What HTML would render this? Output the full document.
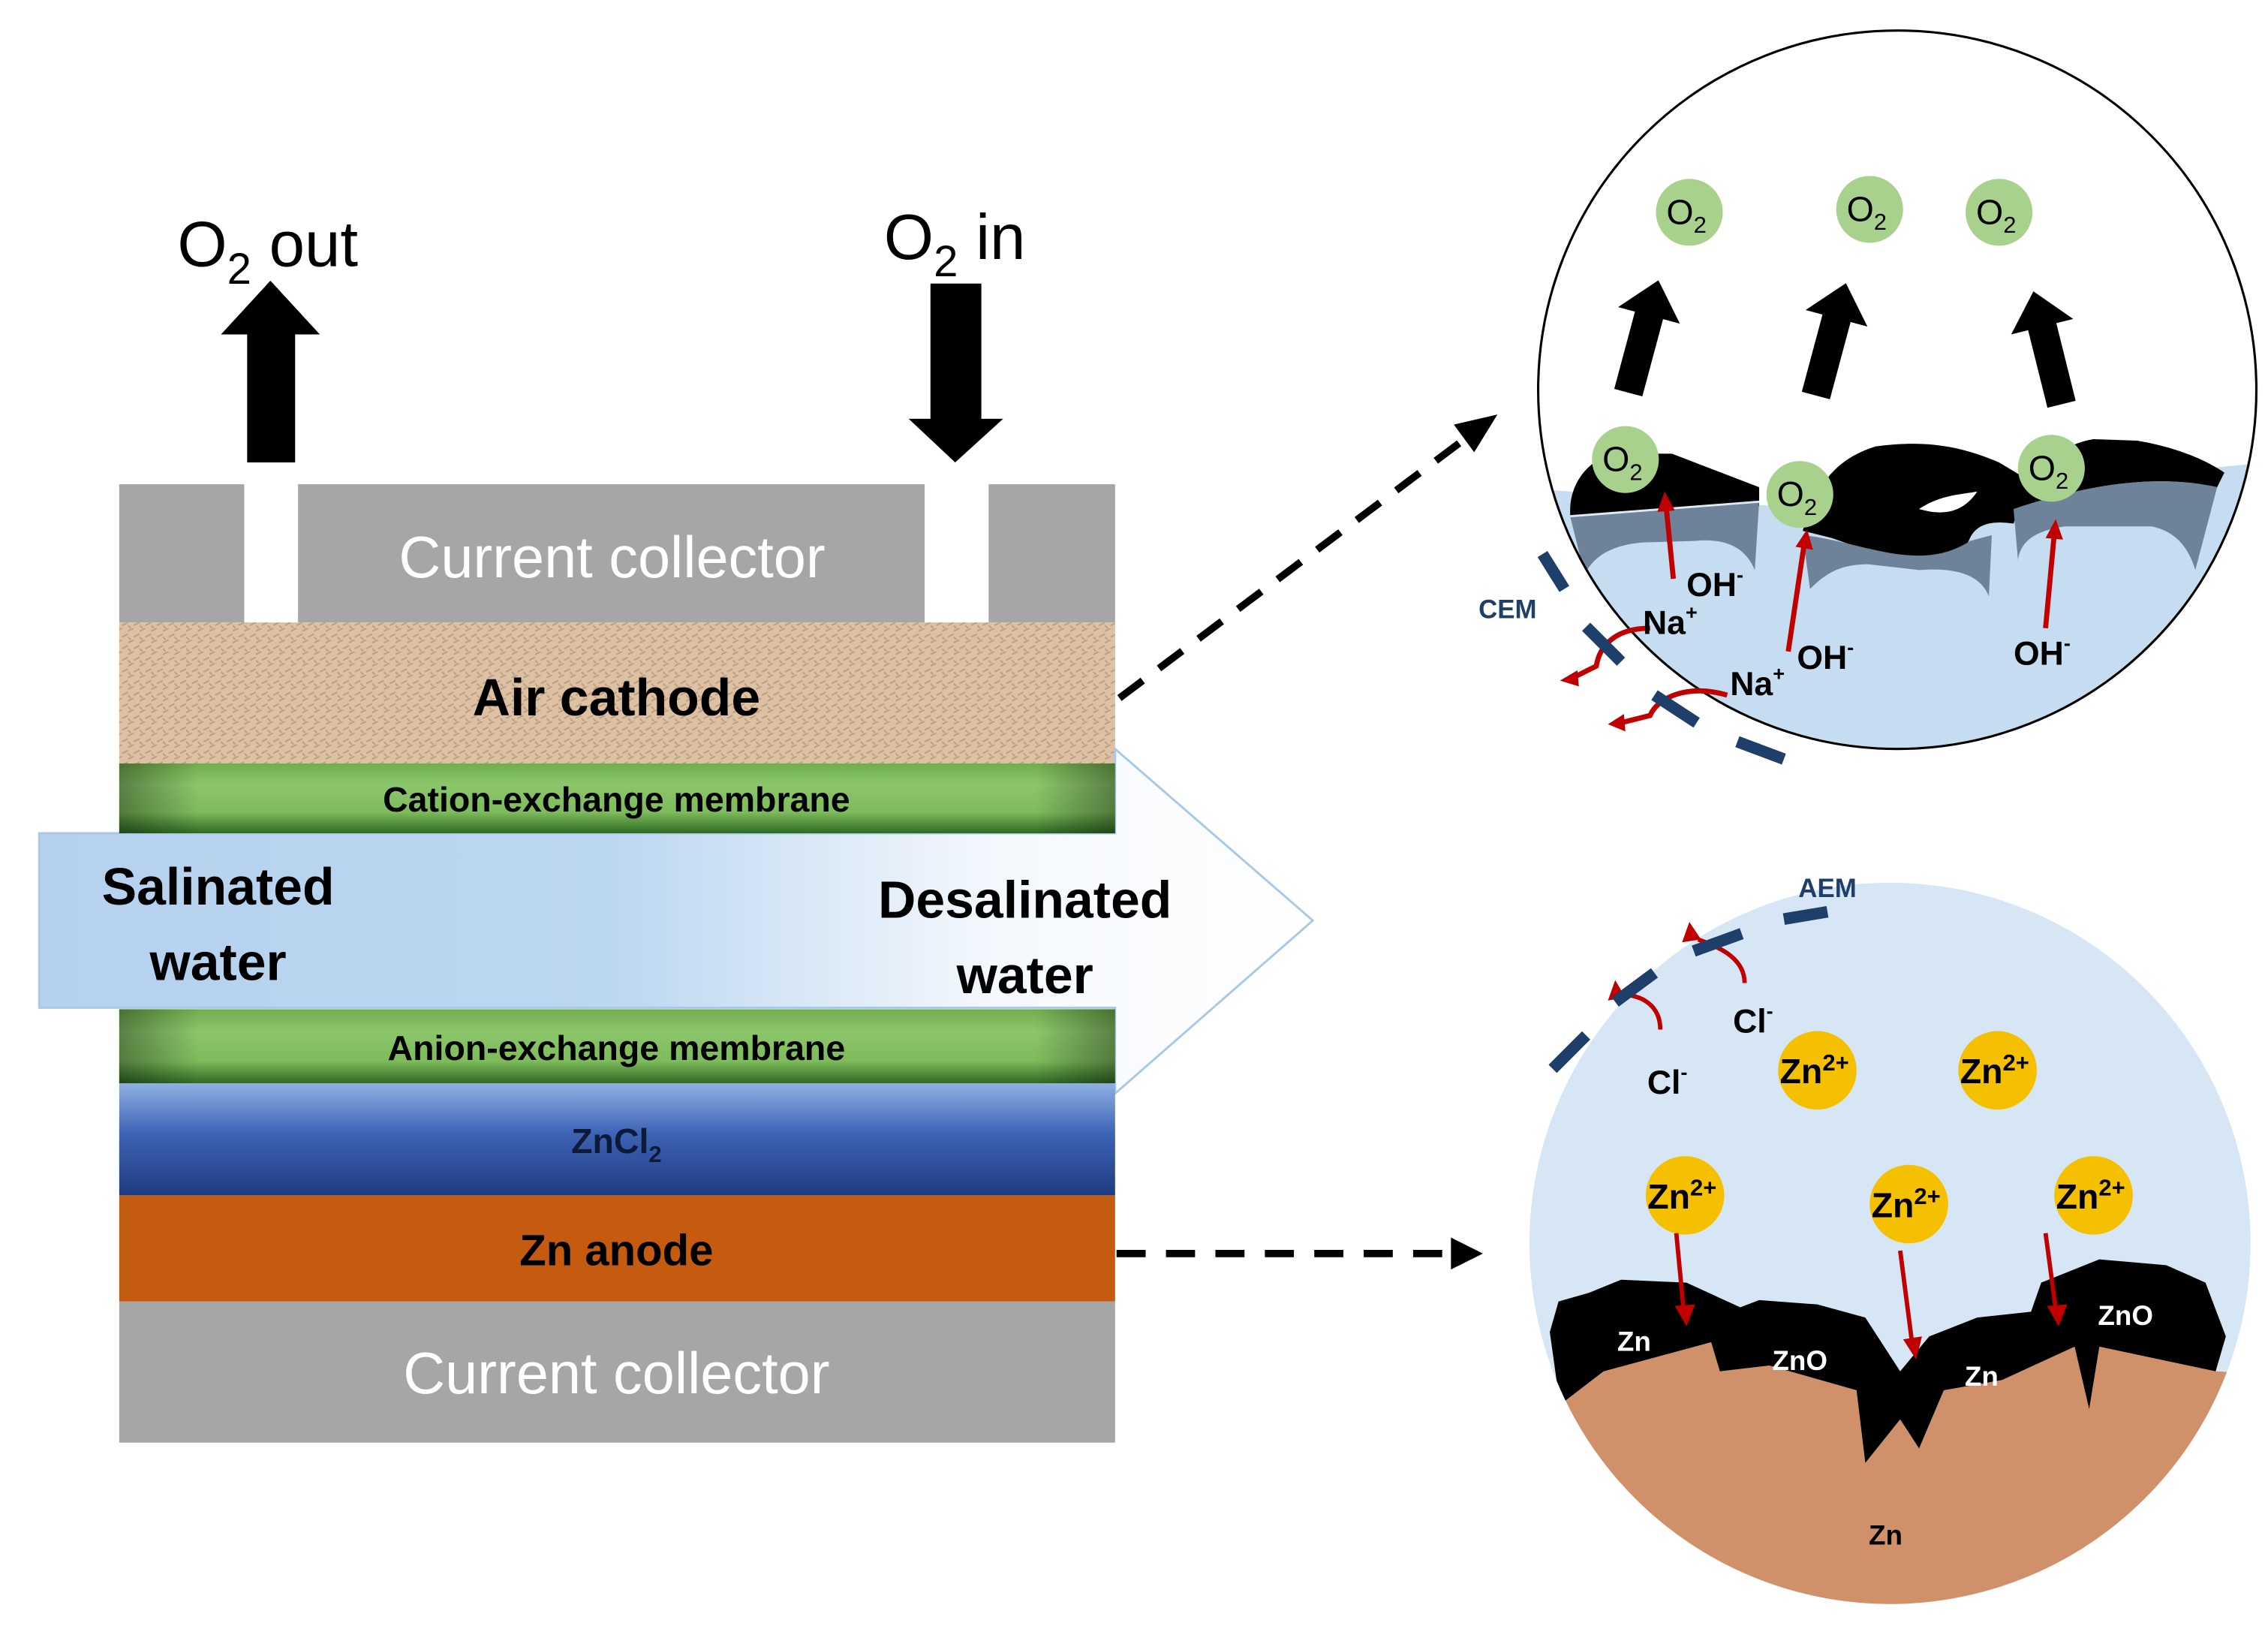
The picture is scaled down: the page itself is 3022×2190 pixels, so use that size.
<!DOCTYPE html>
<html><head><meta charset="utf-8"><style>
html,body{margin:0;padding:0;background:#fff;}
svg{display:block;}
text{font-family:"Liberation Sans",sans-serif;}
</style></head><body>
<svg width="3022" height="2190" viewBox="0 0 1560 1130.5" preserveAspectRatio="none" xmlns="http://www.w3.org/2000/svg">
<defs>
<linearGradient id="grn" x1="0" y1="0" x2="0" y2="1">
<stop offset="0" stop-color="#6fae4c"/><stop offset="0.3" stop-color="#8cc66b"/><stop offset="0.7" stop-color="#7dbb5c"/><stop offset="1" stop-color="#2e6a22"/></linearGradient>
<linearGradient id="grnh" x1="0" y1="0" x2="1" y2="0">
<stop offset="0" stop-color="#000" stop-opacity="0.35"/><stop offset="0.08" stop-color="#000" stop-opacity="0"/><stop offset="0.92" stop-color="#000" stop-opacity="0"/><stop offset="1" stop-color="#000" stop-opacity="0.35"/></linearGradient>
<linearGradient id="zncl" x1="0" y1="0" x2="0" y2="1">
<stop offset="0" stop-color="#8fb0e3"/><stop offset="0.45" stop-color="#3d63b5"/><stop offset="1" stop-color="#1f3b80"/></linearGradient>
<linearGradient id="wat" x1="0" y1="0" x2="1" y2="0">
<stop offset="0" stop-color="#b5d1ee"/><stop offset="0.45" stop-color="#bcd7f0"/><stop offset="0.75" stop-color="#f4f8fd"/><stop offset="1" stop-color="#ffffff"/></linearGradient>
<pattern id="tex" width="8" height="8" patternUnits="userSpaceOnUse">
<rect width="8" height="8" fill="#dcc1a4"/><path d="M0 2 L4 0 M4 6 L8 4 M0 6 L2 8" stroke="#bf9c7c" stroke-width="1"/></pattern>
<clipPath id="c1"><circle cx="1305" cy="268" r="247"/></clipPath>
<clipPath id="c2"><circle cx="1300" cy="855" r="248"/></clipPath>
</defs>

<!-- top labels and arrows -->
<text x="122" y="183" font-size="44">O<tspan font-size="30" dy="12">2</tspan><tspan dy="-12"> out</tspan></text>
<text x="608" y="178" font-size="44">O<tspan font-size="30" dy="12">2</tspan><tspan dy="-12"> in</tspan></text>
<polygon points="170,318 203,318 203,230 220,230 186,193 152,230 170,230" fill="#000"/>
<polygon points="640,195 675,195 675,288 690,288 657,318 625,288 640,288" fill="#000"/>

<!-- current collector top -->
<rect x="82" y="333" width="86" height="95" fill="#a6a6a6"/>
<rect x="205" y="333" width="431" height="95" fill="#a6a6a6"/>
<rect x="680" y="333" width="87" height="95" fill="#a6a6a6"/>
<text x="421" y="397" font-size="40" fill="#fff" text-anchor="middle">Current collector</text>

<!-- air cathode -->
<rect x="82" y="428" width="685" height="97" fill="url(#tex)"/>
<text x="424" y="492" font-size="36" font-weight="bold" text-anchor="middle">Air cathode</text>

<!-- water arrow -->
<polygon points="27,573 767,573 767,515 903,633 767,752 767,693 27,693" fill="url(#wat)" stroke="#a9c8e8" stroke-width="1.5"/>
<!-- membranes -->
<rect x="82" y="525" width="685" height="48" fill="url(#grn)"/>
<rect x="82" y="525" width="685" height="48" fill="url(#grnh)"/>
<text x="424" y="558" font-size="24" font-weight="bold" text-anchor="middle">Cation-exchange membrane</text>
<rect x="82" y="694" width="685" height="51" fill="url(#grn)"/>
<rect x="82" y="694" width="685" height="51" fill="url(#grnh)"/>
<text x="424" y="729" font-size="24" font-weight="bold" text-anchor="middle">Anion-exchange membrane</text>
<text x="150" y="622" font-size="36" font-weight="bold" text-anchor="middle">Salinated</text>
<text x="150" y="674" font-size="36" font-weight="bold" text-anchor="middle">water</text>
<text x="705" y="631" font-size="36" font-weight="bold" text-anchor="middle">Desalinated</text>
<text x="705" y="683" font-size="36" font-weight="bold" text-anchor="middle">water</text>

<!-- ZnCl2 -->
<rect x="82" y="745" width="685" height="77" fill="url(#zncl)"/>
<text x="424" y="793" font-size="24" font-weight="bold" text-anchor="middle" fill="#0d1a3a">ZnCl<tspan font-size="16" dy="6">2</tspan></text>
<!-- Zn anode -->
<rect x="82" y="822" width="685" height="73" fill="#c55a11"/>
<text x="424" y="870" font-size="30" font-weight="bold" text-anchor="middle">Zn anode</text>
<!-- bottom collector -->
<rect x="82" y="895" width="685" height="97" fill="#a6a6a6"/>
<text x="424" y="958" font-size="40" fill="#fff" text-anchor="middle">Current collector</text>

<!-- dashed arrows -->
<line x1="770" y1="480" x2="1010" y2="300" stroke="#000" stroke-width="5" stroke-dasharray="20,14"/>
<polygon points="1030,285 1000,292 1014,311" fill="#000"/>
<line x1="768" y1="862" x2="1000" y2="862" stroke="#000" stroke-width="5" stroke-dasharray="20,14"/>
<polygon points="1020,862 998,851 998,873" fill="#000"/>

<!-- top circle -->
<g clip-path="url(#c1)">
<path d="M1040 335 L1080 338 C1150 352 1240 340 1300 360 C1360 340 1430 330 1560 318 L1560 540 L1040 540 Z" fill="#c5dcf1"/>
<!-- left catalyst -->
<path d="M1080 351 C1080 330 1095 315 1110 312 L1150 312 L1210 335 L1210 348 L1080 355 Z" fill="#000"/>
<path d="M1080 355 L1210 345 L1207 392 C1200 375 1185 370 1165 372 L1130 373 C1105 375 1095 385 1090 395 Z" fill="#6e8299"/>
<!-- middle catalyst -->
<path d="M1240 365 C1250 330 1265 315 1290 307 C1320 303 1345 305 1375 318 L1395 330 L1385 360 C1370 358 1360 360 1355 370 C1345 395 1310 388 1260 370 Z" fill="#000"/>
<path d="M1320 350 C1335 340 1350 340 1360 338 C1352 350 1340 356 1320 350 Z" fill="#fff"/>
<path d="M1240 368 C1280 372 1320 395 1355 372 L1370 368 L1368 410 C1362 395 1345 390 1320 392 L1285 388 C1265 388 1255 395 1245 405 Z" fill="#6e8299"/>
<!-- right catalyst -->
<path d="M1385 345 C1400 320 1420 305 1440 302 L1470 303 C1500 308 1520 318 1530 325 L1525 335 C1480 325 1430 335 1385 350 Z" fill="#000"/>
<path d="M1385 350 C1430 335 1480 325 1525 335 L1510 392 C1505 375 1495 365 1480 362 L1420 362 C1400 365 1390 372 1388 385 Z" fill="#6e8299"/>
<path d="M1080 355 L1210 345" stroke="#dfe9f4" stroke-width="1.5" fill="none"/>
</g>
<circle cx="1305" cy="268" r="247" fill="none" stroke="#000" stroke-width="1.6"/>

<!-- O2 bubbles top -->
<g font-size="24" text-anchor="middle">
<circle cx="1162" cy="146" r="23" fill="#a9d18e"/><text x="1160" y="154">O<tspan font-size="16" dy="6">2</tspan></text>
<circle cx="1286" cy="144" r="23" fill="#a9d18e"/><text x="1284" y="152">O<tspan font-size="16" dy="6">2</tspan></text>
<circle cx="1375" cy="146" r="23" fill="#a9d18e"/><text x="1373" y="154">O<tspan font-size="16" dy="6">2</tspan></text>
<circle cx="1118" cy="316" r="23" fill="#a9d18e"/><text x="1116" y="324">O<tspan font-size="16" dy="6">2</tspan></text>
<circle cx="1238" cy="340" r="23" fill="#a9d18e"/><text x="1236" y="348">O<tspan font-size="16" dy="6">2</tspan></text>
<circle cx="1411" cy="322" r="23" fill="#a9d18e"/><text x="1409" y="330">O<tspan font-size="16" dy="6">2</tspan></text>
</g>
<!-- black arrows in circle -->
<g fill="#000">
<polygon points="-10,0 10,0 10,-55 22,-55 0,-80 -22,-55 -10,-55" transform="translate(1120,270) rotate(15)"/>
<polygon points="-10,0 10,0 10,-55 22,-55 0,-80 -22,-55 -10,-55" transform="translate(1249,272) rotate(15)"/>
<polygon points="-10,0 10,0 10,-55 22,-55 0,-80 -22,-55 -10,-55" transform="translate(1418,278) rotate(-14)"/>
</g>
<!-- red OH arrows -->
<g stroke="#c00000" stroke-width="3.5" fill="none">
<path d="M1151 398 L1146 348"/><path d="M1230 448 L1241 374"/><path d="M1407 432 L1413 367"/>
<path d="M1135 432 C1110 432 1100 445 1098 458 L1082 466"/>
<path d="M1188 478 C1160 470 1140 480 1135 492 L1115 497"/>
</g>
<g fill="#c00000">
<polygon points="1145,338 1140,352 1152,351"/><polygon points="1243,364 1235,376 1247,378"/><polygon points="1414,357 1407,370 1419,371"/>
<polygon points="1073,468 1085,461 1086,472"/><polygon points="1106,498 1117,491 1118,503"/>
</g>
<g font-size="23" font-weight="bold">
<text x="1160" y="410">OH<tspan font-size="14" dy="-10">-</tspan></text>
<text x="1236" y="460">OH<tspan font-size="14" dy="-10">-</tspan></text>
<text x="1385" y="457">OH<tspan font-size="14" dy="-10">-</tspan></text>
<text x="1130" y="436">Na<tspan font-size="14" dy="-10">+</tspan></text>
<text x="1190" y="478">Na<tspan font-size="14" dy="-10">+</tspan></text>
</g>
<!-- CEM dashes -->
<g stroke="#1f3f6b" stroke-width="8" fill="none">
<line x1="1061" y1="381" x2="1076" y2="405"/><line x1="1091" y1="431" x2="1115" y2="455"/>
<line x1="1138" y1="478" x2="1167" y2="497"/><line x1="1195" y1="510" x2="1227" y2="522"/>
</g>
<text x="1017" y="425" font-size="18" font-weight="bold" fill="#1f3f6b">CEM</text>

<!-- bottom circle -->
<g clip-path="url(#c2)">
<rect x="1040" y="600" width="520" height="520" fill="#d6e6f5"/>
<path d="M1040 960 L1073 966 L1103 943 L1177 923 L1183 943 L1217 939 L1277 956 L1283 1006 L1307 976 L1320 996 L1337 956 L1377 949 L1427 926 L1437 969 L1444 926 L1524 943 L1560 945 L1560 1120 L1040 1120 Z" fill="#d0916a"/>
<path d="M1066 916 L1072 895 L1093 889 L1115 880 L1160 882 L1197 899 L1210 894 L1250 897 L1283 906 L1307 943 L1327 919 L1360 906 L1397 902 L1404 882 L1444 866 L1490 870 L1517 882 L1531 919 L1524 943 L1444 926 L1437 969 L1427 926 L1377 949 L1337 956 L1320 996 L1307 976 L1283 1006 L1277 956 L1217 939 L1183 943 L1177 923 L1103 943 L1073 966 Z" fill="#000"/>
</g>
<g font-size="19" font-weight="bold" fill="#fff" text-anchor="middle">
<text x="1124" y="929">Zn</text><text x="1238" y="942">ZnO</text><text x="1363" y="953">Zn</text><text x="1462" y="911">ZnO</text>
</g>
<text x="1297" y="1062" font-size="19" font-weight="bold" text-anchor="middle">Zn</text>
<!-- Zn2+ -->
<g font-size="24" font-weight="bold" text-anchor="middle">
<circle cx="1250" cy="736" r="27" fill="#f5c000"/><text x="1248" y="745">Zn<tspan font-size="16" dy="-9">2+</tspan></text>
<circle cx="1374" cy="736" r="27" fill="#f5c000"/><text x="1372" y="745">Zn<tspan font-size="16" dy="-9">2+</tspan></text>
<circle cx="1159" cy="822" r="27" fill="#f5c000"/><text x="1157" y="831">Zn<tspan font-size="16" dy="-9">2+</tspan></text>
<circle cx="1313" cy="828" r="27" fill="#f5c000"/><text x="1311" y="837">Zn<tspan font-size="16" dy="-9">2+</tspan></text>
<circle cx="1440" cy="822" r="27" fill="#f5c000"/><text x="1438" y="831">Zn<tspan font-size="16" dy="-9">2+</tspan></text>
</g>
<g stroke="#c00000" stroke-width="3" fill="none">
<path d="M1153 848 L1158 900"/><path d="M1307 860 L1315 922"/><path d="M1407 848 L1414 900"/>
<path d="M1142 708 C1142 692 1130 684 1115 684"/><path d="M1200 676 C1200 660 1185 652 1168 646"/>
</g>
<g fill="#c00000">
<polygon points="1160,912 1152,898 1166,897"/><polygon points="1318,935 1309,921 1322,919"/><polygon points="1416,912 1408,898 1422,897"/>
<polygon points="1111,674 1106,688 1118,686"/><polygon points="1162,634 1157,648 1170,646"/>
</g>
<g font-size="23" font-weight="bold">
<text x="1133" y="752">Cl<tspan font-size="14" dy="-10">-</tspan></text>
<text x="1192" y="710">Cl<tspan font-size="14" dy="-10">-</tspan></text>
</g>
<g stroke="#1f3f6b" stroke-width="8" fill="none">
<line x1="1068" y1="735" x2="1091" y2="712"/><line x1="1111" y1="689" x2="1138" y2="669"/>
<line x1="1165" y1="654" x2="1198" y2="642"/><line x1="1227" y1="632" x2="1257" y2="627"/>
</g>
<text x="1237" y="617" font-size="18" font-weight="bold" fill="#1f3f6b">AEM</text>
</svg>
</body></html>
